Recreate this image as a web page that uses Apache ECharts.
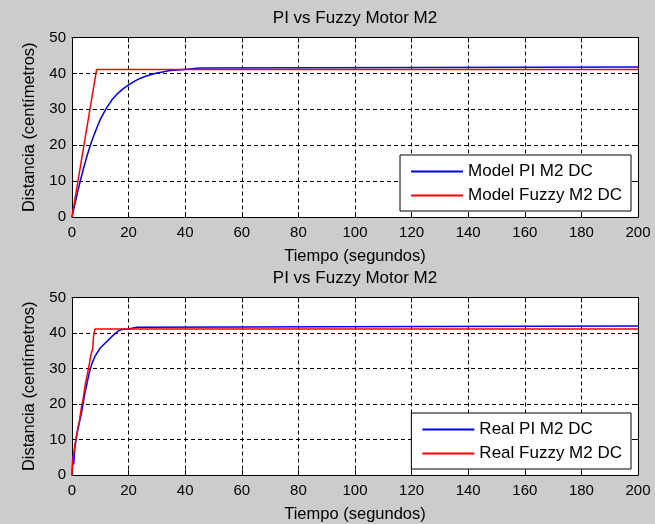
<!DOCTYPE html>
<html>
<head>
<meta charset="utf-8">
<title>PI vs Fuzzy Motor M2</title>
<script src="https://cdn.jsdelivr.net/npm/echarts@6/dist/echarts.min.js"></script>
<style>
  html, body { margin: 0; padding: 0; background: #cccccc; }
  #chart { width: 655px; height: 524px; }
</style>
</head>
<body>
<div id="chart"></div>
<script>
// Response of motor M2: PI controller vs fuzzy controller (time in s, distance in cm)
const chartTitle = 'PI vs Fuzzy Motor M2';
const xLabel = 'Tiempo (segundos)';
const yLabel = 'Distancia (centímetros)';
const xTicks = [0, 20, 40, 60, 80, 100, 120, 140, 160, 180, 200];
const yTicks = [0, 10, 20, 30, 40, 50];

// Simulated model responses
const modelPI = [
  [0, 0], [1, 3.5], [2, 7.0], [3, 10.3], [4, 13.3], [5, 16.2], [6, 18.8], [7, 21.2],
  [8, 23.3], [9, 25.3], [10, 27.2], [12, 30.1], [14, 32.5], [16, 34.3], [18, 35.7],
  [20, 36.8], [22, 37.8], [24, 38.6], [26, 39.2], [28, 39.7], [30, 40.1], [32, 40.4],
  [34.6, 40.8], [38.7, 41.0], [38.7, 41.5], [45.2, 41.5], [45.2, 41.8], [200, 41.8]
];
const modelFuzzy = [
  [0, 0], [0.3, 1.5], [8.7, 41.1], [200, 41.1]
];

// Measured responses
const realPI = [
  [0, 0], [0.3, 5.5], [0.6, 3.0], [1.0, 7.5], [1.65, 11.2], [2.5, 14.5], [3.4, 17.7],
  [4.6, 23.2], [6.1, 28.8], [7.0, 31.3], [8.1, 33.4], [9.9, 35.7], [12.3, 37.6],
  [14.6, 39.4], [16.4, 40.6], [17.6, 41.0], [19.9, 41.1], [19.9, 41.6], [22.9, 41.6],
  [22.9, 42.0], [200, 42.0]
];
const realFuzzy = [
  [0, 0], [0.3, 4.0], [1.0, 8.4], [1.3, 8.6], [2.2, 13.8], [2.5, 14.6], [3.5, 20.0],
  [3.8, 20.8], [4.8, 26.0], [5.4, 28.3], [6.2, 31.6], [6.6, 33.6], [7.3, 35.5],
  [7.6, 39.0], [8.1, 41.1], [200, 41.1]
];

const modelNames = ['Model PI M2 DC', 'Model Fuzzy M2 DC'];
const realNames = ['Real PI M2 DC', 'Real Fuzzy M2 DC'];

const FONT = '"Liberation Sans", Arial, sans-serif';
const INK = '#000000';

const gridTops = [37.5, 297.5];
const gridHeight = 179.5;

function bottomX(gridIndex) {
  return {
    type: 'value', gridIndex, min: xTicks[0], max: xTicks[xTicks.length - 1], interval: 20,
    name: xLabel, nameLocation: 'middle', nameGap: 31,
    nameTextStyle: { fontFamily: FONT, fontSize: 16.5, color: INK },
    axisLine: { show: true, onZero: false, lineStyle: { color: INK, width: 1 } },
    axisTick: { show: true, inside: true, length: 5, lineStyle: { color: INK } },
    axisLabel: { show: true, margin: 8, fontFamily: FONT, fontSize: 15, color: INK },
    splitLine: { show: true, lineStyle: { color: INK, width: 1, type: [4, 3] } }
  };
}
function topX(gridIndex) {
  return {
    type: 'value', gridIndex, position: 'top', min: xTicks[0], max: xTicks[xTicks.length - 1], interval: 20,
    axisLine: { show: true, onZero: false, lineStyle: { color: INK, width: 1 } },
    axisTick: { show: true, inside: true, length: 5, lineStyle: { color: INK } },
    axisLabel: { show: false }, splitLine: { show: false }
  };
}
function leftY(gridIndex) {
  return {
    type: 'value', gridIndex, min: yTicks[0], max: yTicks[yTicks.length - 1], interval: 10,
    name: yLabel, nameLocation: 'middle', nameGap: 34, nameRotate: 90,
    nameTextStyle: { fontFamily: FONT, fontSize: 16.5, color: INK },
    axisLine: { show: true, onZero: false, lineStyle: { color: INK, width: 1 } },
    axisTick: { show: true, inside: true, length: 5, lineStyle: { color: INK } },
    axisLabel: { show: true, margin: 6, fontFamily: FONT, fontSize: 15, color: INK },
    splitLine: { show: true, lineStyle: { color: INK, width: 1, type: [4, 3] } }
  };
}
function rightY(gridIndex) {
  return {
    type: 'value', gridIndex, position: 'right', min: yTicks[0], max: yTicks[yTicks.length - 1], interval: 10,
    axisLine: { show: true, onZero: false, lineStyle: { color: INK, width: 1 } },
    axisTick: { show: true, inside: true, length: 5, lineStyle: { color: INK } },
    axisLabel: { show: false }, splitLine: { show: false }
  };
}

function lineSeries(name, data, color, axisIdx) {
  return {
    name, type: 'line', data, xAxisIndex: axisIdx, yAxisIndex: axisIdx,
    symbol: 'none', showSymbol: false, animation: false,
    lineStyle: { color, width: 1.5 }, itemStyle: { color }
  };
}

// Legend entries show only the line sample (the marker is hidden)
function legendBox(names, top) {
  return {
    data: names, orient: 'vertical', right: 24, top,
    backgroundColor: '#ffffff', borderColor: INK, borderWidth: 1, borderRadius: 0,
    padding: [8, 9, 7, 10], itemGap: 7, itemWidth: 52, itemHeight: 16,
    itemStyle: { opacity: 0 },
    textStyle: { fontFamily: FONT, fontSize: 17, color: INK },
    selectedMode: false
  };
}

const chart = echarts.init(document.getElementById('chart'), null, { renderer: 'canvas' });
chart.setOption({
  backgroundColor: '#cccccc',
  animation: false,
  title: gridTops.map(t => ({
    text: chartTitle, left: 355, top: t - 28, textAlign: 'center', padding: 0,
    textStyle: { fontFamily: FONT, fontSize: 17, fontWeight: 'normal', color: INK }
  })),
  grid: gridTops.map(t => ({
    left: 72, right: 17, top: t, height: gridHeight,
    show: true, backgroundColor: '#ffffff', borderWidth: 0
  })),
  xAxis: [bottomX(0), topX(0), bottomX(1), topX(1)],
  yAxis: [leftY(0), rightY(0), leftY(1), rightY(1)],
  legend: [legendBox(modelNames, 155), legendBox(realNames, 413)],
  series: [
    lineSeries(modelNames[0], modelPI, '#0000ff', 0),
    lineSeries(modelNames[1], modelFuzzy, '#ff0000', 0),
    lineSeries(realNames[0], realPI, '#0000ff', 2),
    lineSeries(realNames[1], realFuzzy, '#ff0000', 2)
  ]
});
</script>
</body>
</html>
